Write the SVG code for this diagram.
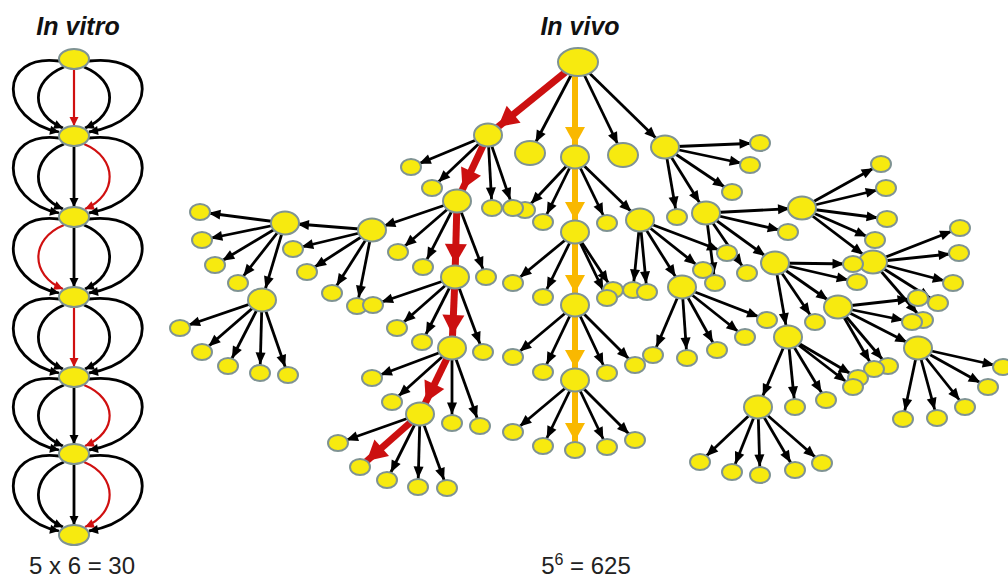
<svg xmlns="http://www.w3.org/2000/svg" width="1008" height="577" viewBox="0 0 1008 577">
<style>
.nd{fill:#f7ea0f;stroke:#7f9393;stroke-width:2}
.e{fill:none;stroke:#000;stroke-width:2.8}
.ek{fill:none;stroke:#000;stroke-width:2.8}
.ekr{fill:none;stroke:#d01010;stroke-width:2.2}
.er{fill:none;stroke:#cc1010;stroke-width:7}
.ey{fill:none;stroke:#f9b800;stroke-width:6}
.ttl{font-family:"Liberation Sans",Arial,sans-serif;font-weight:bold;font-style:italic;font-size:25px;fill:#111}
.cap{font-family:"Liberation Sans",Arial,sans-serif;font-size:24px;fill:#222}
</style>
<defs>
<marker id="mL" markerUnits="userSpaceOnUse" markerWidth="12" markerHeight="10" refX="20.5" refY="5" orient="auto" overflow="visible"><path d="M0,0 L12,5 L0,10 z" fill="#000"/></marker>
<marker id="mI" markerUnits="userSpaceOnUse" markerWidth="12" markerHeight="10" refX="24" refY="5" orient="auto" overflow="visible"><path d="M0,0 L12,5 L0,10 z" fill="#000"/></marker>
<marker id="rI" markerUnits="userSpaceOnUse" markerWidth="20" markerHeight="22" refX="33" refY="11" orient="auto" overflow="visible"><path d="M0,0 L20,11 L0,22 z" fill="#cc1010"/></marker>
<marker id="rL" markerUnits="userSpaceOnUse" markerWidth="20" markerHeight="22" refX="29" refY="11" orient="auto" overflow="visible"><path d="M0,0 L20,11 L0,22 z" fill="#cc1010"/></marker>
<marker id="yI" markerUnits="userSpaceOnUse" markerWidth="18" markerHeight="20" refX="30" refY="10" orient="auto" overflow="visible"><path d="M0,0 L18,10 L0,20 z" fill="#f9b800"/></marker>
<marker id="yL" markerUnits="userSpaceOnUse" markerWidth="18" markerHeight="20" refX="27" refY="10" orient="auto" overflow="visible"><path d="M0,0 L18,10 L0,20 z" fill="#f9b800"/></marker>
<marker id="k" markerUnits="userSpaceOnUse" markerWidth="9" markerHeight="9" refX="9" refY="4.5" orient="auto" overflow="visible"><path d="M0,0 L9,4.5 L0,9 z" fill="#000"/></marker>
<marker id="kr" markerUnits="userSpaceOnUse" markerWidth="9" markerHeight="9" refX="9" refY="4.5" orient="auto" overflow="visible"><path d="M0,0 L9,4.5 L0,9 z" fill="#d01010"/></marker>
</defs>
<rect width="1008" height="577" fill="#fff"/>
<text class="ttl" x="78" y="35" text-anchor="middle">In vitro</text>
<text class="ttl" x="580" y="35" text-anchor="middle">In vivo</text>
<text class="cap" x="82" y="574" text-anchor="middle">5 x 6 = 30</text>
<text class="cap" x="586" y="574" text-anchor="middle">5<tspan font-size="16" dy="-9">6</tspan><tspan dy="9"> = 625</tspan></text>

<g id="connectors">
<g id="vitro-edges">
<path class="ekr" marker-end="url(#kr)" d="M74,69 L74,126"/>
<path class="ek" marker-end="url(#k)" d="M64,67 C30,81 30,114 63,128"/>
<path class="ek" marker-end="url(#k)" d="M84,67 C118,81 118,114 85,128"/>
<path class="ek" marker-end="url(#k)" d="M59,61 C-2,53 -2,120 59,132"/>
<path class="ek" marker-end="url(#k)" d="M89,61 C160,53 160,120 89,132"/>

<path class="ek" marker-end="url(#k)" d="M74,146 L74,207"/>
<path class="ek" marker-end="url(#k)" d="M64,144 C30,158 30,195 63,209"/>
<path class="ekr" marker-end="url(#kr)" d="M84,144 C118,158 118,195 85,209"/>
<path class="ek" marker-end="url(#k)" d="M59,138 C-2,130 -2,201 59,213"/>
<path class="ek" marker-end="url(#k)" d="M89,138 C160,130 160,201 89,213"/>

<path class="ek" marker-end="url(#k)" d="M74,227 L74,287"/>
<path class="ekr" marker-end="url(#kr)" d="M64,225 C30,239 30,275 63,289"/>
<path class="ek" marker-end="url(#k)" d="M84,225 C118,239 118,275 85,289"/>
<path class="ek" marker-end="url(#k)" d="M59,219 C-2,211 -2,281 59,293"/>
<path class="ek" marker-end="url(#k)" d="M89,219 C160,211 160,281 89,293"/>

<path class="ekr" marker-end="url(#kr)" d="M74,307 L74,367"/>
<path class="ek" marker-end="url(#k)" d="M64,305 C30,319 30,355 63,369"/>
<path class="ek" marker-end="url(#k)" d="M84,305 C118,319 118,355 85,369"/>
<path class="ek" marker-end="url(#k)" d="M59,299 C-2,291 -2,361 59,373"/>
<path class="ek" marker-end="url(#k)" d="M89,299 C160,291 160,361 89,373"/>

<path class="ek" marker-end="url(#k)" d="M74,387 L74,444"/>
<path class="ek" marker-end="url(#k)" d="M64,385 C30,399 30,432 63,446"/>
<path class="ekr" marker-end="url(#kr)" d="M84,385 C118,399 118,432 85,446"/>
<path class="ek" marker-end="url(#k)" d="M59,379 C-2,371 -2,438 59,450"/>
<path class="ek" marker-end="url(#k)" d="M89,379 C160,371 160,438 89,450"/>

<path class="ek" marker-end="url(#k)" d="M74,464 L74,525"/>
<path class="ek" marker-end="url(#k)" d="M64,462 C30,476 30,513 63,527"/>
<path class="ekr" marker-end="url(#kr)" d="M84,462 C118,476 118,513 85,527"/>
<path class="ek" marker-end="url(#k)" d="M59,456 C-2,448 -2,519 59,531"/>
<path class="ek" marker-end="url(#k)" d="M89,456 C160,448 160,519 89,531"/>
</g>
<g id="vivo-edges">
<path class="er" marker-end="url(#rI)" d="M578,62 L488,135"/>
<path class="e" marker-end="url(#mI)" d="M578,62 L530,153"/>
<path class="ey" marker-end="url(#yI)" d="M575,62 L575,157"/>
<path class="e" marker-end="url(#mI)" d="M578,62 L623,155"/>
<path class="e" marker-end="url(#mI)" d="M578,62 L665,147"/>
<path class="e" marker-end="url(#mL)" d="M488,135 L411,167"/>
<path class="e" marker-end="url(#mL)" d="M488,135 L432,188"/>
<path class="er" marker-end="url(#rI)" d="M488,135 L457,201"/>
<path class="e" marker-end="url(#mL)" d="M488,135 L492,208"/>
<path class="e" marker-end="url(#mL)" d="M488,135 L513,208"/>
<path class="e" marker-end="url(#mL)" d="M575,157 L525,210"/>
<path class="e" marker-end="url(#mL)" d="M575,157 L543,222"/>
<path class="ey" marker-end="url(#yI)" d="M575,157 L575,232"/>
<path class="e" marker-end="url(#mL)" d="M575,157 L607,223"/>
<path class="e" marker-end="url(#mI)" d="M575,157 L640,220"/>
<path class="e" marker-end="url(#mL)" d="M665,147 L760,143"/>
<path class="e" marker-end="url(#mL)" d="M665,147 L750,165"/>
<path class="e" marker-end="url(#mL)" d="M665,147 L732,192"/>
<path class="e" marker-end="url(#mL)" d="M665,147 L677,217"/>
<path class="e" marker-end="url(#mI)" d="M665,147 L706,213"/>
<path class="e" marker-end="url(#mI)" d="M457,201 L372,230"/>
<path class="e" marker-end="url(#mL)" d="M457,201 L398,252"/>
<path class="e" marker-end="url(#mL)" d="M457,201 L423,267"/>
<path class="er" marker-end="url(#rI)" d="M457,201 L455,277"/>
<path class="e" marker-end="url(#mL)" d="M457,201 L486,277"/>
<path class="e" marker-end="url(#mI)" d="M372,230 L285,223"/>
<path class="e" marker-end="url(#mL)" d="M372,230 L293,249"/>
<path class="e" marker-end="url(#mL)" d="M372,230 L307,272"/>
<path class="e" marker-end="url(#mL)" d="M372,230 L332,293"/>
<path class="e" marker-end="url(#mL)" d="M372,230 L357,306"/>
<path class="e" marker-end="url(#mL)" d="M285,223 L200,212"/>
<path class="e" marker-end="url(#mL)" d="M285,223 L202,240"/>
<path class="e" marker-end="url(#mL)" d="M285,223 L215,265"/>
<path class="e" marker-end="url(#mL)" d="M285,223 L238,283"/>
<path class="e" marker-end="url(#mI)" d="M285,223 L262,300"/>
<path class="e" marker-end="url(#mL)" d="M262,300 L180,328"/>
<path class="e" marker-end="url(#mL)" d="M262,300 L202,352"/>
<path class="e" marker-end="url(#mL)" d="M262,300 L228,366"/>
<path class="e" marker-end="url(#mL)" d="M262,300 L260,373"/>
<path class="e" marker-end="url(#mL)" d="M262,300 L288,375"/>
<path class="e" marker-end="url(#mL)" d="M455,277 L373,305"/>
<path class="e" marker-end="url(#mL)" d="M455,277 L397,328"/>
<path class="e" marker-end="url(#mL)" d="M455,277 L422,342"/>
<path class="er" marker-end="url(#rI)" d="M455,277 L452,348"/>
<path class="e" marker-end="url(#mL)" d="M455,277 L483,352"/>
<path class="e" marker-end="url(#mL)" d="M452,348 L372,378"/>
<path class="e" marker-end="url(#mL)" d="M452,348 L392,402"/>
<path class="er" marker-end="url(#rI)" d="M452,348 L420,414"/>
<path class="e" marker-end="url(#mL)" d="M452,348 L452,423"/>
<path class="e" marker-end="url(#mL)" d="M452,348 L480,426"/>
<path class="e" marker-end="url(#mL)" d="M420,414 L338,443"/>
<path class="er" marker-end="url(#rL)" d="M420,414 L360,467"/>
<path class="e" marker-end="url(#mL)" d="M420,414 L387,480"/>
<path class="e" marker-end="url(#mL)" d="M420,414 L418,487"/>
<path class="e" marker-end="url(#mL)" d="M420,414 L447,488"/>
<path class="e" marker-end="url(#mL)" d="M575,232 L513,283"/>
<path class="e" marker-end="url(#mL)" d="M575,232 L543,297"/>
<path class="ey" marker-end="url(#yI)" d="M575,232 L575,305"/>
<path class="e" marker-end="url(#mL)" d="M575,232 L607,298"/>
<path class="e" marker-end="url(#mL)" d="M575,232 L613,290"/>
<path class="e" marker-end="url(#mL)" d="M575,305 L513,357"/>
<path class="e" marker-end="url(#mL)" d="M575,305 L543,372"/>
<path class="ey" marker-end="url(#yI)" d="M575,305 L575,380"/>
<path class="e" marker-end="url(#mL)" d="M575,305 L607,373"/>
<path class="e" marker-end="url(#mL)" d="M575,305 L635,365"/>
<path class="e" marker-end="url(#mL)" d="M575,380 L513,432"/>
<path class="e" marker-end="url(#mL)" d="M575,380 L543,446"/>
<path class="ey" marker-end="url(#yL)" d="M575,380 L575,450"/>
<path class="e" marker-end="url(#mL)" d="M575,380 L607,447"/>
<path class="e" marker-end="url(#mL)" d="M575,380 L635,440"/>
<path class="e" marker-end="url(#mL)" d="M640,220 L633,290"/>
<path class="e" marker-end="url(#mL)" d="M640,220 L647,292"/>
<path class="e" marker-end="url(#mI)" d="M640,220 L682,287"/>
<path class="e" marker-end="url(#mL)" d="M640,220 L703,270"/>
<path class="e" marker-end="url(#mL)" d="M640,220 L727,253"/>
<path class="e" marker-end="url(#mI)" d="M706,213 L802,208"/>
<path class="e" marker-end="url(#mL)" d="M706,213 L788,232"/>
<path class="e" marker-end="url(#mI)" d="M706,213 L775,263"/>
<path class="e" marker-end="url(#mL)" d="M706,213 L747,273"/>
<path class="e" marker-end="url(#mL)" d="M706,213 L715,283"/>
<path class="e" marker-end="url(#mL)" d="M682,287 L653,355"/>
<path class="e" marker-end="url(#mL)" d="M682,287 L687,358"/>
<path class="e" marker-end="url(#mL)" d="M682,287 L717,350"/>
<path class="e" marker-end="url(#mL)" d="M682,287 L745,337"/>
<path class="e" marker-end="url(#mL)" d="M682,287 L767,320"/>
<path class="e" marker-end="url(#mL)" d="M802,208 L881,164"/>
<path class="e" marker-end="url(#mL)" d="M802,208 L886,188"/>
<path class="e" marker-end="url(#mL)" d="M802,208 L887,219"/>
<path class="e" marker-end="url(#mL)" d="M802,208 L875,240"/>
<path class="e" marker-end="url(#mI)" d="M802,208 L873,262"/>
<path class="e" marker-end="url(#mL)" d="M775,263 L853,264"/>
<path class="e" marker-end="url(#mL)" d="M775,263 L857,282"/>
<path class="e" marker-end="url(#mI)" d="M775,263 L838,307"/>
<path class="e" marker-end="url(#mL)" d="M775,263 L815,322"/>
<path class="e" marker-end="url(#mI)" d="M775,263 L788,337"/>
<path class="e" marker-end="url(#mL)" d="M873,262 L960,228"/>
<path class="e" marker-end="url(#mL)" d="M873,262 L959,253"/>
<path class="e" marker-end="url(#mL)" d="M873,262 L953,283"/>
<path class="e" marker-end="url(#mL)" d="M873,262 L938,303"/>
<path class="e" marker-end="url(#mL)" d="M873,262 L923,320"/>
<path class="e" marker-end="url(#mL)" d="M838,307 L918,298"/>
<path class="e" marker-end="url(#mL)" d="M838,307 L912,322"/>
<path class="e" marker-end="url(#mI)" d="M838,307 L918,348"/>
<path class="e" marker-end="url(#mL)" d="M838,307 L888,366"/>
<path class="e" marker-end="url(#mL)" d="M838,307 L874,369"/>
<path class="e" marker-end="url(#mI)" d="M788,337 L758,407"/>
<path class="e" marker-end="url(#mL)" d="M788,337 L795,407"/>
<path class="e" marker-end="url(#mL)" d="M788,337 L826,400"/>
<path class="e" marker-end="url(#mL)" d="M788,337 L853,387"/>
<path class="e" marker-end="url(#mL)" d="M788,337 L858,378"/>
<path class="e" marker-end="url(#mL)" d="M918,348 L1003,367"/>
<path class="e" marker-end="url(#mL)" d="M918,348 L988,387"/>
<path class="e" marker-end="url(#mL)" d="M918,348 L965,407"/>
<path class="e" marker-end="url(#mL)" d="M918,348 L937,418"/>
<path class="e" marker-end="url(#mL)" d="M918,348 L903,419"/>
<path class="e" marker-end="url(#mL)" d="M758,407 L700,462"/>
<path class="e" marker-end="url(#mL)" d="M758,407 L732,472"/>
<path class="e" marker-end="url(#mL)" d="M758,407 L760,475"/>
<path class="e" marker-end="url(#mL)" d="M758,407 L795,470"/>
<path class="e" marker-end="url(#mL)" d="M758,407 L822,463"/>
</g>
</g>

<g id="vitro-nodes">
<g id="vt0"><ellipse class="nd" cx="74" cy="59" rx="15" ry="10"/></g>
<g id="vt1"><ellipse class="nd" cx="74" cy="136" rx="15" ry="10"/></g>
<g id="vt2"><ellipse class="nd" cx="74" cy="217" rx="15" ry="10"/></g>
<g id="vt3"><ellipse class="nd" cx="74" cy="297" rx="15" ry="10"/></g>
<g id="vt4"><ellipse class="nd" cx="74" cy="377" rx="15" ry="10"/></g>
<g id="vt5"><ellipse class="nd" cx="74" cy="454" rx="15" ry="10"/></g>
<g id="vt6"><ellipse class="nd" cx="74" cy="535" rx="15" ry="10"/></g>
</g>

<g id="vivo-nodes">
<g id="root"><ellipse class="nd" cx="578" cy="62" rx="20" ry="14"/></g>
<g id="nA"><ellipse class="nd" cx="488" cy="135" rx="14" ry="11.5"/></g>
<g id="l530"><ellipse class="nd" cx="530" cy="153" rx="15" ry="12"/></g>
<g id="nB"><ellipse class="nd" cx="575" cy="157" rx="14" ry="11.5"/></g>
<g id="l623"><ellipse class="nd" cx="623" cy="155" rx="15" ry="12"/></g>
<g id="nC"><ellipse class="nd" cx="665" cy="147" rx="14" ry="11.5"/></g>
<g id="a1"><ellipse class="nd" cx="411" cy="167" rx="10" ry="8"/></g>
<g id="a2"><ellipse class="nd" cx="432" cy="188" rx="10" ry="8"/></g>
<g id="a4"><ellipse class="nd" cx="492" cy="208" rx="10" ry="8"/></g>
<g id="b1"><ellipse class="nd" cx="525" cy="210" rx="10" ry="8"/></g>
<g id="a5"><ellipse class="nd" cx="513" cy="208" rx="10" ry="8"/></g>
<g id="b2"><ellipse class="nd" cx="543" cy="222" rx="10" ry="8"/></g>
<g id="b4"><ellipse class="nd" cx="607" cy="223" rx="10" ry="8"/></g>
<g id="c1"><ellipse class="nd" cx="760" cy="143" rx="10" ry="8"/></g>
<g id="c2"><ellipse class="nd" cx="750" cy="165" rx="10" ry="8"/></g>
<g id="c3"><ellipse class="nd" cx="732" cy="192" rx="10" ry="8"/></g>
<g id="c4"><ellipse class="nd" cx="677" cy="217" rx="10" ry="8"/></g>
<g id="nD"><ellipse class="nd" cx="457" cy="201" rx="14" ry="11.5"/></g>
<g id="nE"><ellipse class="nd" cx="575" cy="232" rx="14" ry="11.5"/></g>
<g id="nF"><ellipse class="nd" cx="640" cy="220" rx="14" ry="11.5"/></g>
<g id="nG"><ellipse class="nd" cx="706" cy="213" rx="14" ry="11.5"/></g>
<g id="d2"><ellipse class="nd" cx="398" cy="252" rx="10" ry="8"/></g>
<g id="d3"><ellipse class="nd" cx="423" cy="267" rx="10" ry="8"/></g>
<g id="d5"><ellipse class="nd" cx="486" cy="277" rx="10" ry="8"/></g>
<g id="nP"><ellipse class="nd" cx="372" cy="230" rx="14" ry="11.5"/></g>
<g id="p2"><ellipse class="nd" cx="293" cy="249" rx="10" ry="8"/></g>
<g id="p3"><ellipse class="nd" cx="307" cy="272" rx="10" ry="8"/></g>
<g id="p4"><ellipse class="nd" cx="332" cy="293" rx="10" ry="8"/></g>
<g id="p5"><ellipse class="nd" cx="357" cy="306" rx="10" ry="8"/></g>
<g id="nQ"><ellipse class="nd" cx="285" cy="223" rx="14" ry="11.5"/></g>
<g id="q1"><ellipse class="nd" cx="200" cy="212" rx="10" ry="8"/></g>
<g id="q2"><ellipse class="nd" cx="202" cy="240" rx="10" ry="8"/></g>
<g id="q3"><ellipse class="nd" cx="215" cy="265" rx="10" ry="8"/></g>
<g id="q4"><ellipse class="nd" cx="238" cy="283" rx="10" ry="8"/></g>
<g id="nR"><ellipse class="nd" cx="262" cy="300" rx="14" ry="11.5"/></g>
<g id="r1"><ellipse class="nd" cx="180" cy="328" rx="10" ry="8"/></g>
<g id="r2"><ellipse class="nd" cx="202" cy="352" rx="10" ry="8"/></g>
<g id="r3"><ellipse class="nd" cx="228" cy="366" rx="10" ry="8"/></g>
<g id="r4"><ellipse class="nd" cx="260" cy="373" rx="10" ry="8"/></g>
<g id="r5"><ellipse class="nd" cx="288" cy="375" rx="10" ry="8"/></g>
<g id="nJ"><ellipse class="nd" cx="455" cy="277" rx="14" ry="11.5"/></g>
<g id="j1"><ellipse class="nd" cx="373" cy="305" rx="10" ry="8"/></g>
<g id="j2"><ellipse class="nd" cx="397" cy="328" rx="10" ry="8"/></g>
<g id="j3"><ellipse class="nd" cx="422" cy="342" rx="10" ry="8"/></g>
<g id="j5"><ellipse class="nd" cx="483" cy="352" rx="10" ry="8"/></g>
<g id="nK"><ellipse class="nd" cx="452" cy="348" rx="14" ry="11.5"/></g>
<g id="k1"><ellipse class="nd" cx="372" cy="378" rx="10" ry="8"/></g>
<g id="k2"><ellipse class="nd" cx="392" cy="402" rx="10" ry="8"/></g>
<g id="k4"><ellipse class="nd" cx="452" cy="423" rx="10" ry="8"/></g>
<g id="k5"><ellipse class="nd" cx="480" cy="426" rx="10" ry="8"/></g>
<g id="nL"><ellipse class="nd" cx="420" cy="414" rx="14" ry="11.5"/></g>
<g id="l1"><ellipse class="nd" cx="338" cy="443" rx="10" ry="8"/></g>
<g id="nM"><ellipse class="nd" cx="360" cy="467" rx="10" ry="8"/></g>
<g id="l3"><ellipse class="nd" cx="387" cy="480" rx="10" ry="8"/></g>
<g id="l4"><ellipse class="nd" cx="418" cy="487" rx="10" ry="8"/></g>
<g id="l5"><ellipse class="nd" cx="447" cy="488" rx="10" ry="8"/></g>
<g id="e1"><ellipse class="nd" cx="513" cy="283" rx="10" ry="8"/></g>
<g id="e2"><ellipse class="nd" cx="543" cy="297" rx="10" ry="8"/></g>
<g id="e5"><ellipse class="nd" cx="613" cy="290" rx="10" ry="8"/></g>
<g id="e4"><ellipse class="nd" cx="607" cy="298" rx="10" ry="8"/></g>
<g id="f1"><ellipse class="nd" cx="633" cy="290" rx="10" ry="8"/></g>
<g id="f2"><ellipse class="nd" cx="647" cy="292" rx="10" ry="8"/></g>
<g id="f4"><ellipse class="nd" cx="703" cy="270" rx="10" ry="8"/></g>
<g id="f5"><ellipse class="nd" cx="727" cy="253" rx="10" ry="8"/></g>
<g id="nN"><ellipse class="nd" cx="575" cy="305" rx="14" ry="11.5"/></g>
<g id="n1"><ellipse class="nd" cx="513" cy="357" rx="10" ry="8"/></g>
<g id="n2"><ellipse class="nd" cx="543" cy="372" rx="10" ry="8"/></g>
<g id="n4"><ellipse class="nd" cx="607" cy="373" rx="10" ry="8"/></g>
<g id="n5"><ellipse class="nd" cx="635" cy="365" rx="10" ry="8"/></g>
<g id="nO"><ellipse class="nd" cx="575" cy="380" rx="14" ry="11.5"/></g>
<g id="o1"><ellipse class="nd" cx="513" cy="432" rx="10" ry="8"/></g>
<g id="o2"><ellipse class="nd" cx="543" cy="446" rx="10" ry="8"/></g>
<g id="o3"><ellipse class="nd" cx="575" cy="450" rx="10" ry="8"/></g>
<g id="o4"><ellipse class="nd" cx="607" cy="447" rx="10" ry="8"/></g>
<g id="o5"><ellipse class="nd" cx="635" cy="440" rx="10" ry="8"/></g>
<g id="g2"><ellipse class="nd" cx="788" cy="232" rx="10" ry="8"/></g>
<g id="g4"><ellipse class="nd" cx="747" cy="273" rx="10" ry="8"/></g>
<g id="g5"><ellipse class="nd" cx="715" cy="283" rx="10" ry="8"/></g>
<g id="nS"><ellipse class="nd" cx="682" cy="287" rx="14" ry="11.5"/></g>
<g id="s1"><ellipse class="nd" cx="653" cy="355" rx="10" ry="8"/></g>
<g id="s2"><ellipse class="nd" cx="687" cy="358" rx="10" ry="8"/></g>
<g id="s3"><ellipse class="nd" cx="717" cy="350" rx="10" ry="8"/></g>
<g id="s4"><ellipse class="nd" cx="745" cy="337" rx="10" ry="8"/></g>
<g id="s5"><ellipse class="nd" cx="767" cy="320" rx="10" ry="8"/></g>
<g id="nH"><ellipse class="nd" cx="802" cy="208" rx="14" ry="11.5"/></g>
<g id="h1"><ellipse class="nd" cx="881" cy="164" rx="10" ry="8"/></g>
<g id="h2"><ellipse class="nd" cx="886" cy="188" rx="10" ry="8"/></g>
<g id="h3"><ellipse class="nd" cx="887" cy="219" rx="10" ry="8"/></g>
<g id="h4"><ellipse class="nd" cx="875" cy="240" rx="10" ry="8"/></g>
<g id="nV"><ellipse class="nd" cx="873" cy="262" rx="14" ry="11.5"/></g>
<g id="nI"><ellipse class="nd" cx="775" cy="263" rx="14" ry="11.5"/></g>
<g id="i1"><ellipse class="nd" cx="853" cy="264" rx="10" ry="8"/></g>
<g id="i2"><ellipse class="nd" cx="857" cy="282" rx="10" ry="8"/></g>
<g id="i4"><ellipse class="nd" cx="815" cy="322" rx="10" ry="8"/></g>
<g id="v1"><ellipse class="nd" cx="960" cy="228" rx="10" ry="8"/></g>
<g id="v2"><ellipse class="nd" cx="959" cy="253" rx="10" ry="8"/></g>
<g id="v3"><ellipse class="nd" cx="953" cy="283" rx="10" ry="8"/></g>
<g id="v4"><ellipse class="nd" cx="938" cy="303" rx="10" ry="8"/></g>
<g id="v5"><ellipse class="nd" cx="923" cy="320" rx="10" ry="8"/></g>
<g id="nW"><ellipse class="nd" cx="838" cy="307" rx="14" ry="11.5"/></g>
<g id="w1"><ellipse class="nd" cx="918" cy="298" rx="10" ry="8"/></g>
<g id="w2"><ellipse class="nd" cx="912" cy="322" rx="10" ry="8"/></g>
<g id="w4"><ellipse class="nd" cx="888" cy="366" rx="10" ry="8"/></g>
<g id="w5"><ellipse class="nd" cx="874" cy="369" rx="10" ry="8"/></g>
<g id="nT"><ellipse class="nd" cx="788" cy="337" rx="14" ry="11.5"/></g>
<g id="t2"><ellipse class="nd" cx="795" cy="407" rx="10" ry="8"/></g>
<g id="t3"><ellipse class="nd" cx="826" cy="400" rx="10" ry="8"/></g>
<g id="t5"><ellipse class="nd" cx="858" cy="378" rx="10" ry="8"/></g>
<g id="t4"><ellipse class="nd" cx="853" cy="387" rx="10" ry="8"/></g>
<g id="nX"><ellipse class="nd" cx="918" cy="348" rx="14" ry="11.5"/></g>
<g id="x1"><ellipse class="nd" cx="1003" cy="367" rx="10" ry="8"/></g>
<g id="x2"><ellipse class="nd" cx="988" cy="387" rx="10" ry="8"/></g>
<g id="x3"><ellipse class="nd" cx="965" cy="407" rx="10" ry="8"/></g>
<g id="x4"><ellipse class="nd" cx="937" cy="418" rx="10" ry="8"/></g>
<g id="x5"><ellipse class="nd" cx="903" cy="419" rx="10" ry="8"/></g>
<g id="nY"><ellipse class="nd" cx="758" cy="407" rx="14" ry="11.5"/></g>
<g id="y1"><ellipse class="nd" cx="700" cy="462" rx="10" ry="8"/></g>
<g id="y2"><ellipse class="nd" cx="732" cy="472" rx="10" ry="8"/></g>
<g id="y3"><ellipse class="nd" cx="760" cy="475" rx="10" ry="8"/></g>
<g id="y4"><ellipse class="nd" cx="795" cy="470" rx="10" ry="8"/></g>
<g id="y5"><ellipse class="nd" cx="822" cy="463" rx="10" ry="8"/></g>
</g>
</svg>
